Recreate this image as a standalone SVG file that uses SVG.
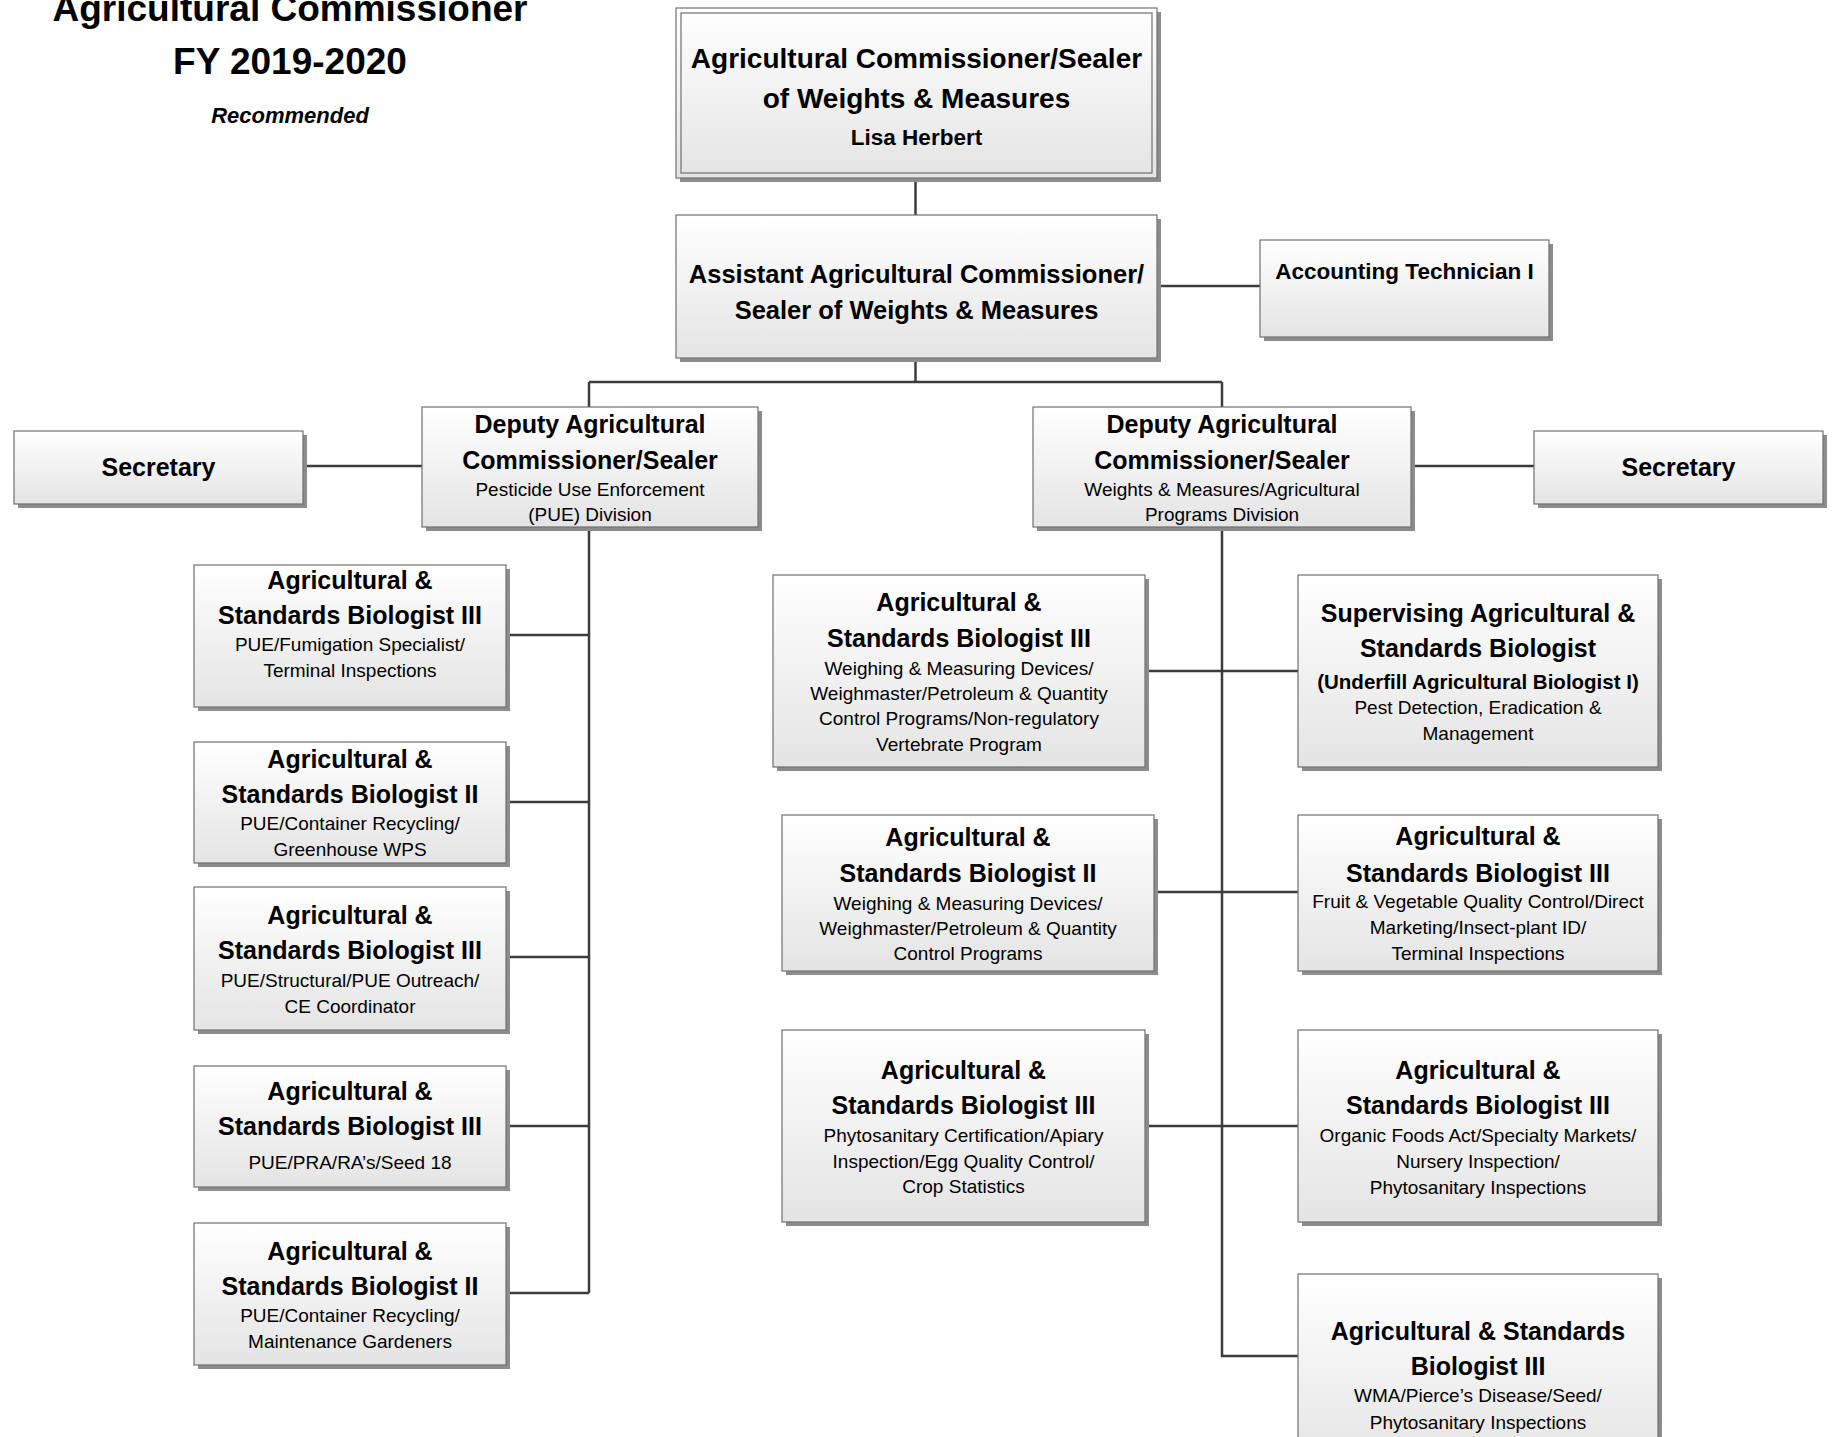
<svg xmlns="http://www.w3.org/2000/svg" width="1833" height="1437" viewBox="0 0 1833 1437">
<defs>
<linearGradient id="g" x1="0" y1="0" x2="0" y2="1">
<stop offset="0" stop-color="#ffffff"/>
<stop offset="1" stop-color="#e4e4e4"/>
</linearGradient>
<style>
.sh{fill:#8c8c8c}
.bx{fill:url(#g);stroke:#707070;stroke-width:1.2}
.in{fill:none;stroke:#707070;stroke-width:1.2}
.t{font-family:"Liberation Sans",Arial,sans-serif;font-weight:bold;fill:#000;text-anchor:middle}
.s{font-family:"Liberation Sans",Arial,sans-serif;font-size:19px;fill:#000;text-anchor:middle}
.b25{font-size:25px}
.cn path{fill:none;stroke:#3c3c3c;stroke-width:2.5}
</style>
</defs>
<rect width="1833" height="1437" fill="#ffffff"/>

<g id="title">
<text class="t" x="290" y="21" style="font-size:37px">Agricultural Commissioner</text>
<text class="t" x="290" y="74" style="font-size:37px">FY 2019-2020</text>
<text class="t" x="290" y="123" style="font-size:22px;font-style:italic">Recommended</text>
</g>

<g class="cn" id="connectors">
<path d="M915.5 178V215"/>
<path d="M1157 286H1260"/>
<path d="M915.5 358V382M589 382H1222M589 382V407M1222 382V407"/>
<path d="M303 466H422"/>
<path d="M1411 466H1534"/>
<path d="M589 527V1293"/>
<path d="M506 635H589M506 802H589M506 957H589M506 1126H589M506 1293H589"/>
<path d="M1222 527V1356H1298"/>
<path d="M1145 671H1298M1154 892H1298M1145 1126H1298"/>
</g>

<g id="commissioner">
<rect class="sh" x="680" y="12" width="481" height="170"/>
<rect class="bx" x="676" y="8" width="481" height="170"/>
<rect class="in" x="681" y="13" width="471" height="160"/>
<text class="t" x="916.5" y="68" style="font-size:28px">Agricultural Commissioner/Sealer</text>
<text class="t" x="916.5" y="108" style="font-size:28px">of Weights &amp; Measures</text>
<text class="t" x="916.5" y="145" style="font-size:22.5px">Lisa Herbert</text>
</g>

<g id="assistant">
<rect class="sh" x="680" y="219" width="481" height="143"/>
<rect class="bx" x="676" y="215" width="481" height="143"/>
<text class="t" x="916.5" y="283" style="font-size:25.5px">Assistant Agricultural Commissioner/</text>
<text class="t" x="916.5" y="319" style="font-size:25.5px">Sealer of Weights &amp; Measures</text>
</g>

<g id="accounting">
<rect class="sh" x="1264" y="244" width="289" height="97"/>
<rect class="bx" x="1260" y="240" width="289" height="97"/>
<text class="t" x="1404.5" y="279" style="font-size:22.5px">Accounting Technician I</text>
</g>

<g id="deputy-pue">
<rect class="sh" x="426" y="411" width="336" height="120"/>
<rect class="bx" x="422" y="407" width="336" height="120"/>
<text class="t b25" x="590" y="432.5">Deputy Agricultural</text>
<text class="t b25" x="590" y="469">Commissioner/Sealer</text>
<text class="s" x="590" y="496">Pesticide Use Enforcement</text>
<text class="s" x="590" y="521">(PUE) Division</text>
</g>

<g id="deputy-wm">
<rect class="sh" x="1037" y="411" width="378" height="120"/>
<rect class="bx" x="1033" y="407" width="378" height="120"/>
<text class="t b25" x="1222" y="432.5">Deputy Agricultural</text>
<text class="t b25" x="1222" y="469">Commissioner/Sealer</text>
<text class="s" x="1222" y="496">Weights &amp; Measures/Agricultural</text>
<text class="s" x="1222" y="521">Programs Division</text>
</g>

<g id="secretary-left">
<rect class="sh" x="18" y="435" width="289" height="73"/>
<rect class="bx" x="14" y="431" width="289" height="73"/>
<text class="t b25" x="158.5" y="476">Secretary</text>
</g>

<g id="secretary-right">
<rect class="sh" x="1538" y="435" width="289" height="73"/>
<rect class="bx" x="1534" y="431" width="289" height="73"/>
<text class="t b25" x="1678.5" y="476">Secretary</text>
</g>

<g id="pue-bio3-fumigation">
<rect class="sh" x="198" y="569" width="312" height="142"/>
<rect class="bx" x="194" y="565" width="312" height="142"/>
<text class="t b25" x="350" y="589">Agricultural &amp;</text>
<text class="t b25" x="350" y="624">Standards Biologist III</text>
<text class="s" x="350" y="651">PUE/Fumigation Specialist/</text>
<text class="s" x="350" y="677">Terminal Inspections</text>
</g>

<g id="pue-bio2-greenhouse">
<rect class="sh" x="198" y="746" width="312" height="121"/>
<rect class="bx" x="194" y="742" width="312" height="121"/>
<text class="t b25" x="350" y="768">Agricultural &amp;</text>
<text class="t b25" x="350" y="803">Standards Biologist II</text>
<text class="s" x="350" y="830">PUE/Container Recycling/</text>
<text class="s" x="350" y="856">Greenhouse WPS</text>
</g>

<g id="pue-bio3-structural">
<rect class="sh" x="198" y="891" width="312" height="143"/>
<rect class="bx" x="194" y="887" width="312" height="143"/>
<text class="t b25" x="350" y="923.5">Agricultural &amp;</text>
<text class="t b25" x="350" y="958.5">Standards Biologist III</text>
<text class="s" x="350" y="986.5">PUE/Structural/PUE Outreach/</text>
<text class="s" x="350" y="1012.5">CE Coordinator</text>
</g>

<g id="pue-bio3-pra">
<rect class="sh" x="198" y="1070" width="312" height="121"/>
<rect class="bx" x="194" y="1066" width="312" height="121"/>
<text class="t b25" x="350" y="1100">Agricultural &amp;</text>
<text class="t b25" x="350" y="1135">Standards Biologist III</text>
<text class="s" x="350" y="1169">PUE/PRA/RA’s/Seed 18</text>
</g>

<g id="pue-bio2-maintenance">
<rect class="sh" x="198" y="1227" width="312" height="142"/>
<rect class="bx" x="194" y="1223" width="312" height="142"/>
<text class="t b25" x="350" y="1260">Agricultural &amp;</text>
<text class="t b25" x="350" y="1295">Standards Biologist II</text>
<text class="s" x="350" y="1322">PUE/Container Recycling/</text>
<text class="s" x="350" y="1348">Maintenance Gardeners</text>
</g>

<g id="wm-bio3-devices">
<rect class="sh" x="777" y="579" width="372" height="192"/>
<rect class="bx" x="773" y="575" width="372" height="192"/>
<text class="t b25" x="959" y="611">Agricultural &amp;</text>
<text class="t b25" x="959" y="646.5">Standards Biologist III</text>
<text class="s" x="959" y="674.5">Weighing &amp; Measuring Devices/</text>
<text class="s" x="959" y="700">Weighmaster/Petroleum &amp; Quantity</text>
<text class="s" x="959" y="725">Control Programs/Non-regulatory</text>
<text class="s" x="959" y="750.5">Vertebrate Program</text>
</g>

<g id="wm-supervising">
<rect class="sh" x="1302" y="579" width="360" height="192"/>
<rect class="bx" x="1298" y="575" width="360" height="192"/>
<text class="t b25" x="1478" y="622">Supervising Agricultural &amp;</text>
<text class="t b25" x="1478" y="657">Standards Biologist</text>
<text class="t" x="1478" y="688.5" style="font-size:20.5px">(Underfill Agricultural Biologist I)</text>
<text class="s" x="1478" y="714">Pest Detection, Eradication &amp;</text>
<text class="s" x="1478" y="740">Management</text>
</g>

<g id="wm-bio2-devices">
<rect class="sh" x="786" y="819" width="372" height="156"/>
<rect class="bx" x="782" y="815" width="372" height="156"/>
<text class="t b25" x="968" y="846">Agricultural &amp;</text>
<text class="t b25" x="968" y="881.5">Standards Biologist II</text>
<text class="s" x="968" y="909.5">Weighing &amp; Measuring Devices/</text>
<text class="s" x="968" y="935">Weighmaster/Petroleum &amp; Quantity</text>
<text class="s" x="968" y="960">Control Programs</text>
</g>

<g id="wm-bio3-fruit">
<rect class="sh" x="1302" y="819" width="360" height="156"/>
<rect class="bx" x="1298" y="815" width="360" height="156"/>
<text class="t b25" x="1478" y="845">Agricultural &amp;</text>
<text class="t b25" x="1478" y="881.5">Standards Biologist III</text>
<text class="s" x="1478" y="908">Fruit &amp; Vegetable Quality Control/Direct</text>
<text class="s" x="1478" y="934">Marketing/Insect-plant ID/</text>
<text class="s" x="1478" y="960">Terminal Inspections</text>
</g>

<g id="wm-bio3-phyto">
<rect class="sh" x="786" y="1034" width="363" height="192"/>
<rect class="bx" x="782" y="1030" width="363" height="192"/>
<text class="t b25" x="963.5" y="1079">Agricultural &amp;</text>
<text class="t b25" x="963.5" y="1114">Standards Biologist III</text>
<text class="s" x="963.5" y="1142">Phytosanitary Certification/Apiary</text>
<text class="s" x="963.5" y="1168">Inspection/Egg Quality Control/</text>
<text class="s" x="963.5" y="1192.5">Crop Statistics</text>
</g>

<g id="wm-bio3-organic">
<rect class="sh" x="1302" y="1034" width="360" height="192"/>
<rect class="bx" x="1298" y="1030" width="360" height="192"/>
<text class="t b25" x="1478" y="1079">Agricultural &amp;</text>
<text class="t b25" x="1478" y="1114">Standards Biologist III</text>
<text class="s" x="1478" y="1142">Organic Foods Act/Specialty Markets/</text>
<text class="s" x="1478" y="1168">Nursery Inspection/</text>
<text class="s" x="1478" y="1193.5">Phytosanitary Inspections</text>
</g>

<g id="wm-bio3-wma">
<rect class="sh" x="1302" y="1278" width="360" height="192"/>
<rect class="bx" x="1298" y="1274" width="360" height="192"/>
<text class="t b25" x="1478" y="1340">Agricultural &amp; Standards</text>
<text class="t b25" x="1478" y="1375">Biologist III</text>
<text class="s" x="1478" y="1401.5">WMA/Pierce’s Disease/Seed/</text>
<text class="s" x="1478" y="1428.5">Phytosanitary Inspections</text>
</g>
</svg>
